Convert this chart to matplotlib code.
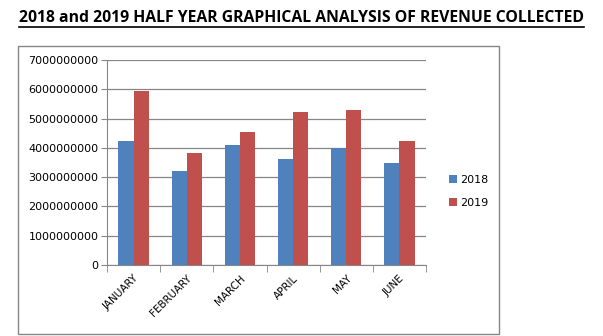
import numpy as np
import matplotlib.pyplot as plt
from matplotlib.patches import Rectangle

months = ['JANUARY', 'FEBRUARY', 'MARCH', 'APRIL', 'MAY', 'JUNE']
rev_2018 = [4230000000, 3210000000, 4100000000, 3620000000, 3990000000, 3480000000]
rev_2019 = [5940000000, 3820000000, 4540000000, 5220000000, 5290000000, 4230000000]
yticks = [0, 1000000000, 2000000000, 3000000000, 4000000000, 5000000000, 6000000000, 7000000000]

plt.rcParams['font.family'] = ['DejaVu Sans']

fig = plt.figure(figsize=(6.03, 3.36), dpi=100)
W, H = 603, 336

# chart frame
fig.patches.append(Rectangle((18 / W, 2 / H), (499 - 18) / W, (290 - 2) / H,
                             transform=fig.transFigure, fill=False,
                             edgecolor='#868686', linewidth=1.0))

ax = fig.add_axes([107 / W, (H - 265) / H, (426 - 107) / W, (265 - 60) / H])

x = np.arange(len(months))
w = 0.285
ax.bar(x - w / 2, rev_2018, w, color='#4F81BD', label='2018', zorder=3)
ax.bar(x + w / 2, rev_2019, w, color='#C0504D', label='2019', zorder=3)

ax.set_xlim(-0.5, len(months) - 0.5)
ax.set_ylim(0, 7000000000)
ax.set_yticks(yticks)
ax.set_yticklabels([str(v) for v in yticks], fontsize=8)
ax.yaxis.grid(True, color='#868686', linewidth=0.9, zorder=0)

ax.set_xticks(x)
ax.set_xticklabels(months, rotation=45, ha='right', rotation_mode='anchor', fontsize=7.5)
ax.tick_params(axis='x', length=0, pad=6)
ax.set_xticks(np.arange(-0.5, len(months)), minor=True)
ax.tick_params(axis='x', which='minor', length=5, color='#868686', direction='out')
ax.tick_params(axis='y', length=4, color='#868686', pad=2)

for s in ['top', 'right']:
    ax.spines[s].set_visible(False)
for s in ['left', 'bottom']:
    ax.spines[s].set_color('#868686')

ax.legend(loc='center left', bbox_to_anchor=(1.04, 0.36), frameon=False,
          fontsize=8, handlelength=0.75, handleheight=0.75, labelspacing=1.2,
          handletextpad=0.3)

t = fig.text(0.5, (H - 18) / H, '2018 and 2019 HALF YEAR GRAPHICAL ANALYSIS OF REVENUE COLLECTED',
             ha='center', va='center', fontsize=11.3, fontweight='bold',
             family=['Open Sans', 'DejaVu Sans'])
# underline
fig.canvas.draw()
bb = t.get_window_extent()
fig.add_artist(plt.Line2D([bb.x0 / W, bb.x1 / W], [(bb.y0 - 1) / H, (bb.y0 - 1) / H],
                          transform=fig.transFigure, color='black', linewidth=1.2))

fig.savefig('out.png', dpi=100)
